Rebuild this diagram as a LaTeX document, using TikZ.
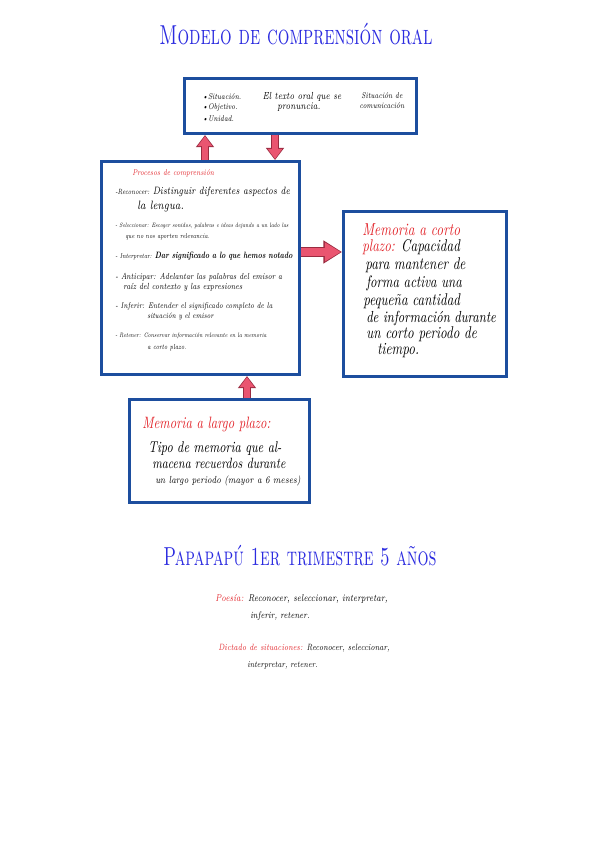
\documentclass[tikz,border=0pt]{standalone}
\usepackage{fontspec}
\usepackage{graphicx}
\usetikzlibrary{arrows.meta}
\definecolor{boxblue}{HTML}{1D4E9E}
\definecolor{titleblue}{HTML}{2B2BE0}
\definecolor{redtxt}{HTML}{E3252B}
\definecolor{arrowpink}{HTML}{EA5570}
\definecolor{arrowedge}{HTML}{9A2B40}
\tikzset{
  x=0.75pt, y=-0.75pt,
  box/.style={draw=boxblue, line width=2.3pt, fill=white, rectangle, inner sep=0pt, anchor=north west},
  hand/.style={anchor=base west, inner sep=0pt, font=\itshape},
  handc/.style={anchor=base, inner sep=0pt, font=\itshape},
  ttl/.style={anchor=base, inner sep=0pt, text=titleblue},
  vout/.style={draw=arrowedge, line width=6pt, -{Triangle[length=9pt,width=13pt]}},
  vin/.style={draw=arrowpink, line width=4.2pt, -{Triangle[length=7.5pt,width=10.5pt]}, shorten >=0.8pt},
  hout/.style={draw=arrowedge, line width=7.5pt, -{Triangle[length=14pt,width=16.5pt]}},
  hin/.style={draw=arrowpink, line width=5.5pt, -{Triangle[length=12pt,width=13.5pt]}, shorten >=0.9pt},
}
\newcommand{\fsz}[1]{\fontsize{#1}{#1}\selectfont}
\newcommand{\hs}[1]{\scalebox{1}[1.3]{#1}}
\begin{document}
\begin{tikzpicture}
\useasboundingbox (0,0) rectangle (600,848);
\fill[white] (0,0) rectangle (600,848);

% titles
\node[ttl] (title1) at (296,45) {\scalebox{1}[1.5]{\fsz{13.7}\scshape Modelo de comprensión oral}};
\node[ttl] (title2) at (300,565) {\scalebox{1}[1.5]{\fsz{13}\scshape Papapapú 1er trimestre 5 años}};

% boxes
\node[box, minimum width=232*0.75pt, minimum height=55*0.75pt] (top) at (183,77) {};
\node[box, minimum width=198*0.75pt, minimum height=213*0.75pt] (big) at (100,160) {};
\node[box, minimum width=163*0.75pt, minimum height=165*0.75pt] (right) at (342,210) {};
\node[box, minimum width=180*0.75pt, minimum height=103*0.75pt] (bottom) at (128,398) {};

% arrows
\coordinate (ax1) at (205,0);
\coordinate (ax2) at (275,0);
\coordinate (ay3) at (0,252);
\coordinate (ax4) at (247,0);
\draw[vout] (big.north -| ax1) -- (top.south -| ax1);
\draw[vin]  (big.north -| ax1) -- (top.south -| ax1);
\draw[vout] (top.south -| ax2) -- (big.north -| ax2);
\draw[vin]  (top.south -| ax2) -- (big.north -| ax2);
\draw[hout] (big.east |- ay3) -- (right.west |- ay3);
\draw[hin]  (big.east |- ay3) -- (right.west |- ay3);
\draw[vout] (bottom.north -| ax4) -- (big.south -| ax4);
\draw[vin]  (bottom.north -| ax4) -- (big.south -| ax4);

% top box text
\node[hand, font=\itshape\fsz{4.8}] (s1) at (202,100) {\hs{\textbullet Situación.}};
\node[hand, font=\itshape\fsz{4.8}] (s2) at (202,110) {\hs{\textbullet Objetivo.}};
\node[hand, font=\itshape\fsz{4.8}] (s3) at (202,122) {\hs{\textbullet Unidad.}};
\node[handc, font=\itshape\fsz{5.9}] (c1) at (302,100) {\hs{El texto oral que se}};
\node[handc, font=\itshape\fsz{5.9}] (c2) at (299,110) {\hs{pronuncia.}};
\node[handc, font=\itshape\fsz{4.8}] (r1) at (382,99) {\hs{Situación de}};
\node[handc, font=\itshape\fsz{4.8}] (r2) at (382,109) {\hs{comunicación}};

% process box text
\node[hand, font=\itshape\fsz{4.8}, text=redtxt] (p0) at (132,176) {\hs{Procesos de comprensión}};
\node[hand, font=\itshape\fsz{4.35}] (p1) at (115,195) {\hs{-Reconocer: {\fsz{6.15}Distinguir diferentes aspectos de}}};
\node[hand, font=\itshape\fsz{7}] (p1b) at (137,210) {\hs{la lengua.}};
\node[hand, font=\itshape\fsz{3.6}] (p2) at (115,228) {\hs{- Seleccionar: Escoger sonidos, palabras e ideas dejando a un lado las}};
\node[hand, font=\itshape\fsz{4}] (p2b) at (125,239) {\hs{que no nos aporten relevancia.}};
\node[hand, font=\itshape\fsz{4}] (p3) at (115,258) {\hs{- Interpretar: {\bfseries\fsz{5.3}Dar significado a lo que hemos notado}}};
\node[hand, font=\itshape\fsz{5.05}] (p4) at (115,280) {\hs{- Anticipar: Adelantar las palabras del emisor a}};
\node[hand, font=\itshape\fsz{5.1}] (p4b) at (123,290) {\hs{raíz del contexto y las expresiones}};
\node[hand, font=\itshape\fsz{4.75}] (p5) at (115,308) {\hs{- Inferir: Entender el significado completo de la}};
\node[hand, font=\itshape\fsz{4.6}] (p5b) at (147,318) {\hs{situación y el emisor}};
\node[hand, font=\itshape\fsz{3.7}] (p6) at (115,337) {\hs{- Retener: Conservar información relevante en la memoria}};
\node[hand, font=\itshape\fsz{4.2}] (p6b) at (147,349) {\hs{a corto plazo.}};

% right box text
\node[hand, font=\itshape\fsz{10}, text=redtxt] (m1) at (362,236) {\hs{Memoria a corto}};
\node[hand, font=\itshape\fsz{9.8}] (m2) at (362,252) {\hs{\textcolor{redtxt}{plazo:} Capacidad}};
\node[hand, font=\itshape\fsz{9.8}] (m3) at (365,270) {\hs{para mantener de}};
\node[hand, font=\itshape\fsz{9.6}] (m4) at (366,287) {\hs{forma activa una}};
\node[hand, font=\itshape\fsz{9.8}] (m5) at (363,305) {\hs{pequeña cantidad}};
\node[hand, font=\itshape\fsz{9.25}] (m6) at (366,322) {\hs{de información durante}};
\node[hand, font=\itshape\fsz{9.8}] (m7) at (366,338) {\hs{un corto periodo de}};
\node[hand, font=\itshape\fsz{9.8}] (m8) at (377,354) {\hs{tiempo.}};

% bottom box text
\node[hand, font=\itshape\fsz{9.5}, text=redtxt] (l1) at (142,428) {\hs{Memoria a largo plazo:}};
\node[hand, font=\itshape\fsz{9}] (l2) at (148,452) {\hs{Tipo de memoria que al-}};
\node[hand, font=\itshape\fsz{8.6}] (l3) at (152,468) {\hs{macena recuerdos durante}};
\node[hand, font=\itshape\fsz{5.9}] (l4) at (155,483) {\hs{un largo periodo (mayor a 6 meses)}};

% bottom notes
\node[hand, font=\itshape\fsz{5.75}] (n1) at (215,601) {\hs{\textcolor{redtxt}{Poesía:} Reconocer, seleccionar, interpretar,}};
\node[hand, font=\itshape\fsz{5.5}] (n1b) at (250,618) {\hs{inferir, retener.}};
\node[hand, font=\itshape\fsz{5.25}] (n2) at (218,650) {\hs{\textcolor{redtxt}{Dictado de situaciones:} Reconocer, seleccionar,}};
\node[hand, font=\itshape\fsz{5.1}] (n2b) at (247,667) {\hs{interpretar, retener.}};
\end{tikzpicture}
\end{document}
